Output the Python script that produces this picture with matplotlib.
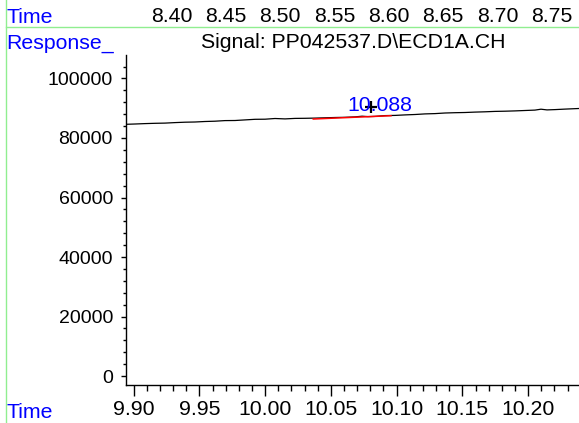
import matplotlib
matplotlib.use("Agg")
import matplotlib.pyplot as plt
from matplotlib.ticker import MultipleLocator, FixedLocator
from matplotlib.lines import Line2D

plt.rcParams['font.family'] = ['Liberation Sans', 'DejaVu Sans']

# ---- data ----
sig_time = [9.8941, 9.9010, 9.9086, 9.9162, 9.9238, 9.9314, 9.9390, 9.9466, 9.9542,
            9.9618, 9.9694, 9.9771, 9.9847, 9.9923, 9.9999, 10.0075, 10.0151, 10.0227,
            10.0303, 10.0379, 10.0455, 10.0531, 10.0607, 10.0683, 10.0737, 10.0782,
            10.0835, 10.0911, 10.0988, 10.1064, 10.1140, 10.1216, 10.1292, 10.1368,
            10.1444, 10.1520, 10.1596, 10.1672, 10.1748, 10.1824, 10.1900, 10.1976,
            10.2052, 10.2098, 10.2144, 10.2205, 10.2281, 10.2387]
sig_resp = [84604, 84705, 84839, 84940, 85007, 85175, 85310, 85377, 85545,
            85646, 85848, 85881, 86083, 86284, 86318, 86554, 86419, 86587,
            86621, 86688, 86789, 86890, 86957, 87092, 87327, 87192,
            87259, 87528, 87596, 87764, 87898, 88100, 88200, 88402,
            88503, 88570, 88705, 88805, 88940, 89007, 89108, 89243,
            89377, 89681, 89444, 89545, 89713, 89915]
baseline_time = [10.0366, 10.0957]
baseline_resp = [86385, 87495]
peak_time = 10.0803
peak_resp = 90520
peak_label = "10.088"
peak_label_time = 10.0873
peak_label_resp = 89074

bottom_ticks = [9.90, 9.95, 10.00, 10.05, 10.10, 10.15, 10.20]
bottom_ticklabels = ["9.90", "9.95", "10.00", "10.05", "10.10", "10.15", "10.20"]
top_ticks = [8.40, 8.45, 8.50, 8.55, 8.60, 8.65, 8.70, 8.75]
top_ticklabels = ["8.40", "8.45", "8.50", "8.55", "8.60", "8.65", "8.70", "8.75"]
y_ticks = [0, 20000, 40000, 60000, 80000, 100000]
y_ticklabels = ["0", "20000", "40000", "60000", "80000", "100000"]

title_text = "Signal: PP042537.D\\ECD1A.CH"

W, H = 579, 423
fig = plt.figure(figsize=(W / 100, H / 100), dpi=100)
fig.patch.set_facecolor("white")

FS = 15.3
BLUE = "#0000ff"
GREEN = "#90ee90"

left = 126.3 / W
bottom = (H - 385) / H
top = (H - 55) / H
ax = fig.add_axes([left, bottom, 1 - left, top - bottom])
ax.plot(sig_time, sig_resp, color="black", lw=0.9)
ax.plot(baseline_time, baseline_resp, color="red", lw=1.1)
ax.plot([peak_time], [peak_resp], marker="+", color="black", ms=9, mew=1.6)
ax.text(peak_label_time, peak_label_resp, peak_label, color=BLUE, fontsize=FS,
        ha="center", va="baseline")

ax.set_xlim(9.89437, 10.23872)
ax.set_ylim(-3025, 107899)
ax.spines["top"].set_visible(False)
ax.spines["right"].set_visible(False)
ax.spines["left"].set_linewidth(1.0)
ax.spines["bottom"].set_linewidth(1.0)

ax.xaxis.set_major_locator(FixedLocator(bottom_ticks))
ax.set_xticklabels(bottom_ticklabels)
ax.xaxis.set_minor_locator(MultipleLocator(0.01))
ax.yaxis.set_major_locator(FixedLocator(y_ticks))
ax.set_yticklabels(y_ticklabels)
ax.yaxis.set_minor_locator(MultipleLocator(4000))

ax.tick_params(axis="x", which="major", length=8, width=1, pad=2.5, labelsize=FS)
ax.tick_params(axis="x", which="minor", length=4.5, width=1)
ax.tick_params(axis="y", which="major", length=3.6, width=1, pad=6, labelsize=14)
ax.tick_params(axis="y", which="minor", length=2.2, width=1)

# top time axis (different scale)
ax_top = fig.add_axes([left, (H - 27) / H, 1 - left, 0.0001])
ax_top.set_xlim(8.35820, 8.77505)
ax_top.xaxis.tick_top()
ax_top.xaxis.set_major_locator(FixedLocator(top_ticks))
ax_top.set_xticklabels(top_ticklabels)
ax_top.tick_params(axis="x", length=0, pad=0.5, labelsize=FS)
ax_top.set_yticks([])
for s in ax_top.spines.values():
    s.set_visible(False)
ax_top.patch.set_alpha(0)

# green frame lines
fig.add_artist(Line2D([5.5 / W, 5.5 / W], [0, 1], transform=fig.transFigure,
                      color=GREEN, lw=1.0))
fig.add_artist(Line2D([5.5 / W, 1], [(H - 27) / H, (H - 27) / H],
                      transform=fig.transFigure, color=GREEN, lw=1.0))

fig.text(6.5 / W, (H - 22.7) / H, "Time", color=BLUE, fontsize=FS, va="baseline")
fig.text(6.5 / W, (H - 48.3) / H, "Response_", color=BLUE, fontsize=FS, va="baseline")
fig.text(6.5 / W, (H - 418) / H, "Time", color=BLUE, fontsize=FS, va="baseline")
fig.text(353 / W, (H - 48.5) / H, title_text, color="black", fontsize=FS,
         ha="center", va="baseline")

fig.savefig("out.png", dpi=100)
